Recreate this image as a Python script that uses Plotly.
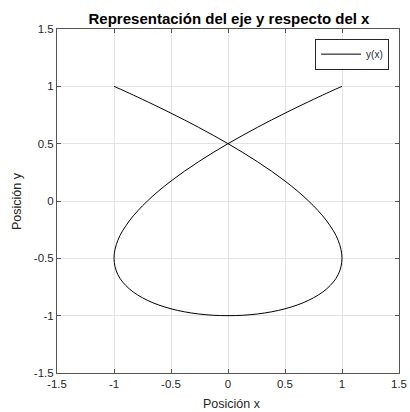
import plotly.graph_objects as go

# Points (x, y)
x_vals = [1.0, 0.966, 0.866, 0.707, 0.5, 0.259, 0.0, -0.259, -0.5, -0.707, -0.866, -0.966, -1.0,
          -0.966, -0.866, -0.707, -0.5, -0.259, 0.0, 0.259, 0.5, 0.707, 0.866, 0.966, 1.0,
          0.966, 0.866, 0.707, 0.5, 0.259, 0.0, -0.259, -0.5, -0.707, -0.866, -0.966, -1.0]
y_vals = [1.0, 0.985, 0.940, 0.866, 0.766, 0.643, 0.5, 0.342, 0.174, 0.0, -0.174, -0.342, -0.5,
          -0.643, -0.766, -0.866, -0.940, -0.985, -1.0, -0.985, -0.940, -0.866, -0.766, -0.643, -0.5,
          -0.342, -0.174, 0.0, 0.174, 0.342, 0.5, 0.643, 0.766, 0.866, 0.940, 0.985, 1.0]

tick_vals = [-1.5, -1, -0.5, 0, 0.5, 1, 1.5]
tick_text = ["-1.5", "-1", "-0.5", "0", "0.5", "1", "1.5"]

FONT = "Liberation Sans, Arial, sans-serif"
AX = "#262626"

W, H = 410, 412
L, R, T, B = 57, 11, 29, 39

fig = go.Figure()
fig.add_trace(go.Scatter(x=x_vals, y=y_vals, mode="lines", name="y(x)",
                         line=dict(color="black", width=1, shape="spline", smoothing=1.0)))

axis_common = dict(range=[-1.5, 1.5], tickvals=tick_vals, ticktext=tick_text,
                   showgrid=True, gridcolor="#e3e3e3", gridwidth=1, automargin=False,
                   zeroline=False, showline=True, linecolor="#555555", linewidth=1,
                   mirror="ticks", ticks="inside", ticklen=4, tickcolor="#555555",
                   tickfont=dict(family=FONT, size=11.5, color=AX))

fig.update_layout(
    width=W, height=H,
    margin=dict(l=L, r=R, t=T, b=B),
    paper_bgcolor="white", plot_bgcolor="white",
    title=dict(text="<b>Representación del eje y respecto del x</b>",
               x=229 / W, xanchor="center", y=1 - 19 / H, yanchor="middle",
               font=dict(family=FONT, size=15, color="black")),
    xaxis=dict(**axis_common),
    yaxis=dict(**axis_common),
    showlegend=True,
    legend=dict(x=0.971, y=0.972, xanchor="right", yanchor="top",
                bgcolor="white", bordercolor=AX, borderwidth=1,
                font=dict(family=FONT, size=10, color=AX),
                tracegroupgap=0, itemwidth=40),
    annotations=[
        dict(text="Posición x", xref="paper", yref="paper",
             x=(232 - L) / (W - L - R), y=-(404 - (H - B)) / (H - T - B),
             xanchor="center", yanchor="middle",
             showarrow=False, font=dict(family=FONT, size=12.5, color=AX)),
        dict(text="Posición y", xref="paper", yref="paper", textangle=-90,
             x=-(L - 17) / (W - L - R), y=(H - B - 201) / (H - T - B),
             xanchor="center", yanchor="middle",
             showarrow=False, font=dict(family=FONT, size=12.5, color=AX)),
    ],
)

fig.write_html("out.html",
               config={"displayModeBar": False},
               post_script="document.body.style.margin='0';document.body.style.overflow='hidden';")
